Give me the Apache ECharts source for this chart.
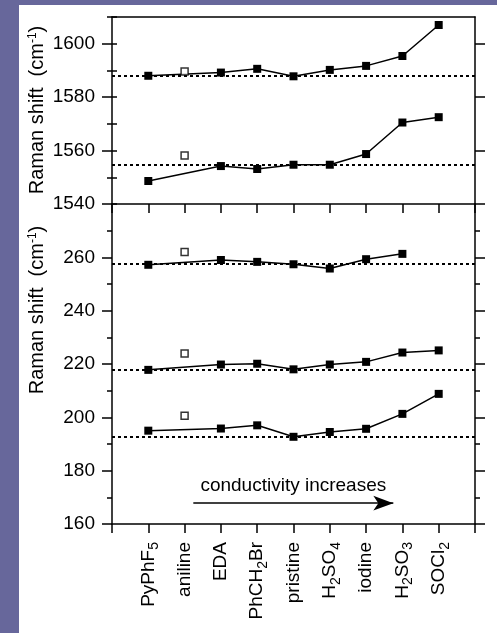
<!DOCTYPE html>
<html>
<head>
<meta charset="utf-8">
<title>Raman shift</title>
<script src="https://cdn.jsdelivr.net/npm/echarts@6/dist/echarts.min.js"></script>
<style>
  html, body { margin: 0; padding: 0; }
  #wrap { position: relative; width: 497px; height: 633px; background: #67679b; overflow: hidden; }
  #paper { position: absolute; left: 19px; top: 5px; right: 0; bottom: 0; background: #fff; }
  #chart { position: absolute; left: 0; top: 0; width: 497px; height: 633px; }
</style>
</head>
<body>
<div id="wrap">
  <div id="paper"></div>
  <div id="chart"></div>
</div>
<script>
// samples, left to right (x = 1..9)
const categories = ['PyPhF{s|5}', 'aniline', 'EDA', 'PhCH{s|2}Br', 'pristine', 'H{s|2}SO{s|4}', 'iodine', 'H{s|2}SO{s|3}', 'SOCl{s|2}']

// filled squares, aniline is drawn separately as open squares
const gPlus = [1588.0, null, 1589.2, 1590.6, 1587.8, 1590.2, 1591.7, 1595.4, 1607.0]
const gMinus = [1548.6, null, 1554.2, 1553.1, 1554.7, 1554.7, 1558.7, 1570.5, 1572.5]
const rbm1 = [257.2, null, 259.0, 258.3, 257.4, 255.8, 259.3, 261.3, null]
const rbm2 = [217.8, null, 219.8, 220.1, 218.0, 219.8, 220.8, 224.3, 225.1]
const rbm3 = [195.0, null, 195.8, 197.0, 192.7, 194.5, 195.7, 201.3, 208.8]

// open squares at aniline (same order: gPlus, gMinus, rbm1, rbm2, rbm3)
const anilineValues = [1589.6, 1558.2, 262.0, 223.9, 200.6]
// dotted reference lines (pristine level)
const pristineLevels = [1588.0, 1554.8, 257.6, 218.0, 192.8]

const upperTicks = [1540, 1560, 1580, 1600]
const lowerTicks = [160, 180, 200, 220, 240, 260]

// arrow annotation in data coords of the lower panel
const arrowStart = [2.24, 167.8]
const arrowEnd = [7.75, 167.8]

const font = '"Liberation Sans", Arial, sans-serif'
const black = '#000'
const axisLineStyle = { color: black, width: 1.5 }

function toPoints(values) {
  return values.map((v, i) => [i + 1, v]).filter(p => p[1] != null)
}

function yAxes(gridIndex, min, max, labels) {
  const base = {
    gridIndex, type: 'value', min, max, interval: 10,
    splitLine: { show: false },
    axisLine: { show: true, onZero: false, lineStyle: axisLineStyle }
  }
  const major = side => Object.assign({}, base, {
    position: side,
    axisTick: { show: true, length: 10, customValues: labels, lineStyle: axisLineStyle },
    axisLabel: {
      show: side === 'left', customValues: labels, margin: 17,
      color: black, fontSize: 19, fontFamily: font,
      formatter: v => String(v)
    }
  })
  const minor = side => Object.assign({}, base, {
    position: side,
    axisLine: { show: false },
    axisTick: { show: true, length: 5, lineStyle: axisLineStyle },
    axisLabel: { show: false }
  })
  return [major('left'), minor('left'), major('right'), minor('right')]
}

function xAxis(gridIndex, position, opts) {
  return Object.assign({
    gridIndex, type: 'value', position, min: 0, max: 10, interval: 1,
    splitLine: { show: false },
    axisLine: { show: true, onZero: false, lineStyle: axisLineStyle },
    axisTick: { show: false },
    axisLabel: { show: false }
  }, opts)
}

function lineSeries(values, level, xAxisIndex, yAxisIndex, extraMarks) {
  return {
    type: 'line', xAxisIndex, yAxisIndex,
    data: toPoints(values),
    symbol: 'rect', symbolSize: 8,
    itemStyle: { color: black },
    lineStyle: { color: black, width: 1.5 },
    z: 3,
    markLine: {
      silent: true, symbol: 'none', label: { show: false },
      lineStyle: { color: black, type: [3, 3], width: 2 },
      data: [{ yAxis: level }].concat(extraMarks || [])
    }
  }
}

function openSeries(value, xAxisIndex, yAxisIndex) {
  return {
    type: 'scatter', xAxisIndex, yAxisIndex,
    data: [[2, value]],
    symbol: 'rect', symbolSize: 7,
    itemStyle: { color: '#fff', borderColor: black, borderWidth: 1.5 },
    z: 4
  }
}

const arrowMark = [
  {
    coord: arrowStart, symbol: 'none',
    lineStyle: { type: 'solid', width: 1.5, color: black },
    label: {
      show: true, position: 'insideMiddleTop', distance: 8,
      formatter: 'conductivity increases',
      color: black, fontSize: 19, fontFamily: font
    }
  },
  { coord: arrowEnd, symbol: 'arrow', symbolSize: [11, 20] }
]

const titleText = {
  text: '{n|Raman shift  (cm}{p|-1}{n|)}',
  align: 'center', verticalAlign: 'middle', fill: black,
  rich: {
    n: { fontSize: 20, fontFamily: font, fill: black },
    p: { fontSize: 12, fontFamily: font, fill: black, verticalAlign: 'top' }
  }
}

const chart = echarts.init(document.getElementById('chart'))
chart.setOption({
  animation: false,
  grid: [
    { left: 112, top: 17, width: 363, height: 187 },
    { left: 112, top: 204, width: 363, height: 320 }
  ],
  xAxis: [
    xAxis(0, 'bottom', { axisTick: { show: true, length: 9, lineStyle: axisLineStyle } }),
    xAxis(0, 'top'),
    xAxis(1, 'bottom', {
      axisTick: { show: true, length: 9, lineStyle: axisLineStyle },
      axisLabel: {
        show: true, rotate: 90, margin: 18,
        color: black, fontSize: 19, fontFamily: font,
        formatter: v => categories[v - 1] || '',
        rich: {
          s: { fontSize: 14, fontFamily: font, color: black, verticalAlign: 'bottom', padding: [12, 0, 0, 0] }
        }
      }
    })
  ],
  yAxis: yAxes(0, 1540, 1610, upperTicks).concat(yAxes(1, 160, 280, lowerTicks)),
  series: [
    lineSeries(gPlus, pristineLevels[0], 0, 0),
    lineSeries(gMinus, pristineLevels[1], 0, 0),
    lineSeries(rbm1, pristineLevels[2], 2, 4),
    lineSeries(rbm2, pristineLevels[3], 2, 4),
    lineSeries(rbm3, pristineLevels[4], 2, 4, [arrowMark]),
    openSeries(anilineValues[0], 0, 0),
    openSeries(anilineValues[1], 0, 0),
    openSeries(anilineValues[2], 2, 4),
    openSeries(anilineValues[3], 2, 4),
    openSeries(anilineValues[4], 2, 4)
  ],
  graphic: [
    { type: 'text', x: 37, y: 110, rotation: Math.PI / 2, style: titleText },
    { type: 'text', x: 37, y: 310, rotation: Math.PI / 2, style: titleText }
  ]
})
</script>
</body>
</html>
